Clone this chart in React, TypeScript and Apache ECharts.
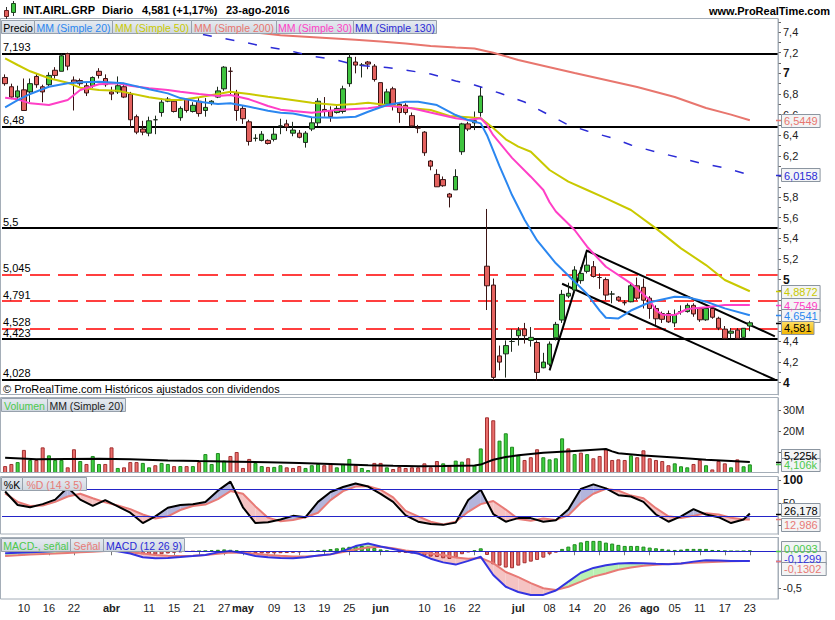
import { useEffect, useRef } from 'react';
import * as echarts from 'echarts';

const FONT = '"Liberation Sans", Arial, Helvetica, sans-serif';

// ---------------- categories (trading days, last 4 are empty future slots) ----------------
const MONTH_DAYS: [string, number[]][] = [
  ['03', [7, 8, 9, 10, 11, 14, 15, 16, 17, 18, 21, 22, 23, 24, 29, 30, 31]],
  ['04', [1, 4, 5, 6, 7, 8, 11, 12, 13, 14, 15, 18, 19, 20, 21, 22, 25, 26, 27, 28, 29]],
  ['05', [2, 3, 4, 5, 6, 9, 10, 11, 12, 13, 16, 17, 18, 19, 20, 23, 24, 25, 26, 27, 30, 31]],
  ['06', [1, 2, 3, 6, 7, 8, 9, 10, 13, 14, 15, 16, 17, 20, 21, 22, 23, 24, 27, 28, 29, 30]],
  ['07', [1, 4, 5, 6, 7, 8, 11, 12, 13, 14, 15, 18, 19, 20, 21, 22, 25, 26, 27, 28, 29]],
  ['08', [1, 2, 3, 4, 5, 8, 9, 10, 11, 12, 15, 16, 17, 18, 19, 22, 23, 24, 25, 26, 29]],
];
const DATES = MONTH_DAYS.flatMap(([m, ds]) => ds.map((d) => `2016-${m}-${String(d).padStart(2, '0')}`));
const TICK_DATES = [
  '2016-03-10', '2016-03-16', '2016-03-22', '2016-04-01', '2016-04-11', '2016-04-15', '2016-04-21',
  '2016-04-27', '2016-05-02', '2016-05-09', '2016-05-13', '2016-05-19', '2016-05-25', '2016-06-01',
  '2016-06-10', '2016-06-16', '2016-06-22', '2016-07-01', '2016-07-08', '2016-07-14', '2016-07-20',
  '2016-07-26', '2016-08-01', '2016-08-05', '2016-08-11', '2016-08-17', '2016-08-23',
];
const MONTH_LABELS: Record<string, string> = {
  '2016-04-01': 'abr', '2016-05-02': 'may', '2016-06-01': 'jun', '2016-07-01': 'jul', '2016-08-01': 'ago',
};

// ---------------- prices ----------------
const OPEN = [
  6.96, 6.87, 6.77, 6.84, 6.82, 6.97, 6.87, 6.89, 7.03, 7.02,
  7.19, 6.935, 6.93, 6.88, 6.88, 7.02, 6.95, 6.82, 6.82, 6.87,
  6.80, 6.58, 6.46, 6.42, 6.55, 6.62, 6.73, 6.73, 6.57, 6.75,
  6.63, 6.73, 6.64, 6.71, 6.77, 6.85, 7.02, 6.81, 6.66, 6.53,
  6.37, 6.35, 6.35, 6.36, 6.49, 6.51, 6.42, 6.42, 6.33, 6.46,
  6.52, 6.65, 6.64, 6.62, 6.63, 6.90, 7.11, 7.08, 7.11, 7.07,
  6.91, 6.70, 6.85, 6.70, 6.69, 6.59, 6.47, 6.43, 6.15, 6.02,
  5.97, 5.83, 5.87, 6.24, 6.51, 6.52, 6.62, 5.13, 4.947, 4.26,
  4.28, 4.40, 4.456, 4.52, 4.41, 4.39, 4.145, 4.18, 4.436, 4.608,
  4.84, 4.899, 4.99, 5.08, 5.125, 5.02, 5.00, 4.86, 4.83, 4.776,
  4.785, 4.94, 4.925, 4.82, 4.72, 4.67, 4.67, 4.58, 4.69, 4.69,
  4.75, 4.72, 4.61, 4.72, 4.625, 4.52, 4.48, 4.51, 4.44, 4.55,
];
const CLOSE = [
  6.90, 6.77, 6.83, 6.64, 6.90, 6.89, 6.82, 6.98, 6.98, 7.17,
  7.07, 6.91, 6.90, 6.81, 6.96, 6.98, 6.89, 6.80, 6.88, 6.77,
  6.55, 6.43, 6.43, 6.54, 6.55, 6.72, 6.75, 6.63, 6.66, 6.64,
  6.69, 6.61, 6.67, 6.73, 6.83, 7.06, 7.02, 6.64, 6.56, 6.34,
  6.37, 6.41, 6.32, 6.41, 6.49, 6.48, 6.45, 6.38, 6.42, 6.52,
  6.73, 6.63, 6.58, 6.66, 6.85, 7.155, 7.08, 7.08, 7.09, 6.94,
  6.69, 6.82, 6.70, 6.62, 6.62, 6.49, 6.47, 6.23, 6.10, 5.90,
  5.91, 5.80, 6.00, 6.51, 6.46, 6.54, 6.78, 4.94, 4.052, 4.20,
  4.36, 4.40, 4.51, 4.456, 4.44, 4.10, 4.20, 4.375, 4.566, 4.857,
  4.867, 5.093, 5.06, 5.14, 5.03, 5.02, 4.85, 4.86, 4.80, 4.776,
  4.94, 4.82, 4.80, 4.72, 4.62, 4.615, 4.59, 4.66, 4.69, 4.75,
  4.667, 4.61, 4.72, 4.635, 4.53, 4.43, 4.50, 4.43, 4.528, 4.581,
];
const LOW = [
  6.88, 6.75, 6.74, 6.64, 6.72, 6.86, 6.72, 6.86, 6.95, 7.02,
  7.03, 6.64, 6.88, 6.78, 6.86, 6.95, 6.87, 6.74, 6.80, 6.76,
  6.47, 6.41, 6.40, 6.39, 6.41, 6.58, 6.72, 6.62, 6.54, 6.62,
  6.62, 6.58, 6.58, 6.69, 6.76, 6.83, 6.79, 6.54, 6.51, 6.30,
  6.34, 6.34, 6.31, 6.34, 6.41, 6.44, 6.39, 6.37, 6.28, 6.44,
  6.49, 6.58, 6.53, 6.61, 6.61, 6.87, 7.00, 6.96, 7.04, 6.92,
  6.69, 6.69, 6.64, 6.52, 6.60, 6.48, 6.42, 6.20, 6.06, 5.90,
  5.90, 5.70, 5.87, 6.21, 6.44, 6.45, 6.58, 4.705, 4.02, 4.12,
  4.05, 4.30, 4.36, 4.38, 4.35, 4.02, 4.14, 4.16, 4.41, 4.58,
  4.82, 4.88, 4.96, 5.06, 5.02, 4.91, 4.80, 4.77, 4.79, 4.75,
  4.78, 4.80, 4.72, 4.62, 4.56, 4.58, 4.58, 4.54, 4.66, 4.68,
  4.64, 4.59, 4.60, 4.62, 4.51, 4.42, 4.43, 4.42, 4.43, 4.50,
];
const HIGH = [
  6.99, 6.90, 6.88, 6.95, 6.95, 7.00, 6.89, 7.01, 7.06, 7.19,
  7.20, 6.97, 6.95, 6.91, 6.97, 7.05, 6.99, 6.87, 6.97, 6.90,
  6.82, 6.60, 6.54, 6.58, 6.59, 6.76, 6.77, 6.74, 6.68, 6.76,
  6.72, 6.76, 6.76, 6.74, 6.87, 7.07, 7.06, 6.84, 6.69, 6.55,
  6.41, 6.44, 6.36, 6.47, 6.56, 6.55, 6.53, 6.45, 6.44, 6.57,
  6.76, 6.77, 6.68, 6.70, 6.88, 7.19, 7.16, 7.10, 7.12, 7.09,
  6.91, 6.85, 6.87, 6.72, 6.71, 6.62, 6.50, 6.44, 6.16, 6.07,
  6.00, 5.84, 6.07, 6.52, 6.53, 6.63, 6.87, 5.685, 5.01, 4.36,
  4.41, 4.52, 4.54, 4.58, 4.54, 4.41, 4.29, 4.40, 4.59, 4.90,
  4.97, 5.13, 5.12, 5.25, 5.18, 5.06, 5.02, 4.89, 4.84, 4.80,
  4.96, 5.02, 5.01, 4.84, 4.75, 4.69, 4.70, 4.71, 4.75, 4.77,
  4.77, 4.73, 4.73, 4.73, 4.64, 4.55, 4.53, 4.53, 4.53, 4.60,
];

// moving averages: [day index, value]
const MA20: [number, number][] = [
  [0, 6.67], [2, 6.74], [4, 6.8], [7, 6.87], [10, 6.905], [12, 6.913], [15, 6.919], [19, 6.903],
  [23, 6.845], [26, 6.806], [28, 6.76], [31, 6.725], [34, 6.703], [36, 6.709], [39, 6.676], [42, 6.638],
  [44, 6.618], [46, 6.61], [49, 6.574], [53, 6.57], [56, 6.579], [58, 6.628], [61, 6.693], [64, 6.725],
  [66, 6.725], [69, 6.693], [72, 6.596], [74, 6.547], [76, 6.515], [77, 6.4], [78, 6.25], [79, 6.1],
  [81, 5.82], [83, 5.58], [85, 5.38], [88, 5.158], [91, 4.98], [93, 4.86], [95, 4.7], [96, 4.63],
  [98, 4.624], [100, 4.7], [103, 4.78], [107, 4.834], [109, 4.828], [112, 4.786], [115, 4.721], [119, 4.6541],
];
const MA30: [number, number][] = [
  [0, 6.764], [2, 6.748], [4, 6.709], [7, 6.693], [10, 6.741], [12, 6.838], [15, 6.894], [18, 6.903],
  [20, 6.88], [23, 6.855], [26, 6.838], [28, 6.822], [31, 6.8], [34, 6.78], [36, 6.79], [39, 6.748],
  [42, 6.683], [44, 6.648], [46, 6.635], [49, 6.618], [53, 6.644], [58, 6.661], [61, 6.686], [65, 6.661],
  [69, 6.606], [72, 6.564], [74, 6.547], [76, 6.564], [77, 6.5], [78, 6.4], [81, 6.18], [84, 5.998],
  [86, 5.869], [87, 5.75], [88, 5.66], [91, 5.481], [93, 5.319], [96, 5.125], [100, 4.964], [103, 4.802],
  [104, 4.7], [105, 4.66], [107, 4.657], [109, 4.715], [112, 4.731], [115, 4.753], [119, 4.7549],
];
const MA50: [number, number][] = [
  [0, 7.146], [2, 7.081], [4, 7.02], [7, 6.952], [10, 6.909], [12, 6.861], [15, 6.838], [18, 6.832],
  [20, 6.806], [23, 6.768], [26, 6.741], [28, 6.741], [31, 6.768], [34, 6.8], [36, 6.822], [39, 6.8],
  [42, 6.773], [45, 6.748], [49, 6.715], [53, 6.693], [56, 6.703], [58, 6.715], [61, 6.693], [65, 6.661],
  [68, 6.644], [71, 6.586], [74, 6.574], [76, 6.564], [78, 6.47], [80, 6.36], [82, 6.29], [84, 6.24],
  [87, 6.063], [90, 5.95], [93, 5.869], [96, 5.788], [100, 5.675], [104, 5.497], [108, 5.303], [112, 5.141],
  [115, 4.996], [119, 4.8872],
];
const MA200: [number, number][] = [
  [34, 7.45], [40, 7.395], [44, 7.37], [48, 7.355], [52, 7.34], [56, 7.325], [60, 7.31], [64, 7.29],
  [68, 7.265], [72, 7.25], [75, 7.24], [78, 7.2], [82, 7.13], [87, 7.06], [91, 7.003], [96, 6.935],
  [101, 6.867], [107, 6.77], [112, 6.664], [116, 6.6], [119, 6.5449],
];
const MA130: [number, number][] = [
  [28, 7.42], [34, 7.349], [38, 7.304], [41, 7.265], [45, 7.226], [49, 7.168], [53, 7.129], [56, 7.081],
  [61, 7.056], [64, 7.032], [68, 6.993], [72, 6.926], [75, 6.887], [79, 6.809], [83, 6.722], [86, 6.625],
  [90, 6.499], [93, 6.441], [97, 6.373], [100, 6.305], [104, 6.237], [108, 6.179], [111, 6.13], [115, 6.082],
  [119, 6.0158],
];

const BLACK_LEVELS = [7.193, 6.48, 5.5, 4.423, 4.028];
const RED_LEVELS = [5.045, 4.791, 4.528];
const TRENDLINES: [number, number][][] = [
  [[87, 4.12], [93, 5.29]],
  [[93, 5.28], [123, 4.45]],
  [[89, 4.96], [123, 4.03]],
];
// right-axis labels that the reference still shows (others sit under the value boxes)
const MAIN_TICKS = [4, 4.2, 4.4, 5, 5.2, 5.4, 5.6, 5.8, 6.2, 6.4, 6.6, 6.8, 7, 7.2, 7.4];
const MAIN_TICK_MARKS = [
  4, 4.1, 4.2, 4.3, 4.4, 4.5, 4.6, 4.7, 4.8, 4.9, 5, 5.1, 5.2, 5.3, 5.4, 5.5, 5.6, 5.7, 5.8, 5.9,
  6, 6.1, 6.2, 6.3, 6.4, 6.5, 6.6, 6.7, 6.8, 6.9, 7, 7.1, 7.2, 7.3, 7.4, 7.5,
];

// ---------------- volume (millions) ----------------
const VOLUME = [
  3.3, 4.3, 5.2, 11.0, 6.2, 6.2, 12.2, 8.4, 6.2, 6.2,
  2.7, 11.3, 5.7, 4.3, 8.1, 4.3, 4.3, 12.2, 2.4, 2.7,
  5.2, 5.2, 4.8, 2.7, 3.7, 4.8, 4.3, 3.3, 3.3, 3.3,
  3.3, 5.2, 9.0, 4.3, 9.5, 5.9, 8.1, 10.0, 2.4, 6.7,
  4.8, 3.3, 2.9, 2.9, 3.7, 2.7, 2.4, 3.3, 2.4, 3.7,
  4.3, 3.7, 4.3, 2.7, 4.3, 6.7, 3.7, 2.4, 1.4, 4.8,
  4.8, 2.7, 1.9, 2.9, 2.4, 2.7, 2.7, 4.6, 2.7, 5.7,
  4.6, 3.3, 5.9, 5.4, 7.0, 3.7, 11.7, 26.5, 25.1, 15.4,
  18.9, 12.5, 8.4, 6.2, 7.5, 11.3, 7.5, 6.5, 7.0, 16.5,
  11.7, 9.0, 9.7, 9.0, 7.0, 8.1, 11.3, 6.2, 6.5, 6.2,
  8.4, 7.5, 10.8, 7.0, 6.2, 5.7, 3.7, 4.6, 3.2, 2.7,
  4.3, 6.2, 3.7, 1.7, 5.7, 4.6, 2.7, 6.5, 3.2, 4.106,
];
const VOLUME_UP = [
  0, 0, 1, 0, 1, 0, 0, 1, 1, 1,
  0, 0, 1, 0, 1, 1, 0, 0, 1, 0,
  0, 0, 1, 1, 0, 1, 1, 0, 1, 0,
  1, 0, 1, 1, 1, 1, 0, 0, 0, 0,
  1, 1, 0, 1, 1, 0, 0, 0, 1, 1,
  1, 0, 0, 1, 1, 1, 0, 1, 1, 0,
  0, 1, 0, 0, 0, 0, 0, 0, 0, 0,
  1, 0, 1, 1, 0, 1, 1, 0, 0, 1,
  1, 1, 1, 0, 0, 0, 1, 1, 1, 1,
  0, 1, 0, 1, 0, 0, 0, 0, 0, 0,
  1, 0, 0, 0, 0, 0, 0, 1, 1, 1,
  0, 0, 1, 0, 0, 0, 1, 0, 1, 1,
];
const VOL_MA: [number, number][] = [
  [0, 7.3], [5, 6.5], [10, 6.7], [15, 6.8], [20, 6.5], [26, 6.0], [31, 5.7], [37, 5.4], [42, 5.1],
  [47, 4.8], [52, 4.3], [58, 3.7], [62, 3.4], [66, 3.2], [70, 3.3], [75, 3.6], [76, 4.0], [77, 5.2],
  [78, 6.3], [80, 7.6], [82, 8.4], [86, 9.6], [91, 10.5], [96, 11.4], [97, 10.3], [98, 9.4], [102, 8.3],
  [107, 7.4], [112, 6.3], [116, 5.7], [119, 5.225],
];
const VOL_TICKS = [20, 30];
const VOL_TICK_MARKS = [10, 20, 30];

// ---------------- oscillators (read every second day + last day) ----------------
const OSC_IDX = [...Array.from({ length: 60 }, (_, i) => i * 2), 119];
const STOCH_K = [
  75, 45, 40, 47, 57, 84, 57, 43, 56, 42,
  28, 5, 20, 39, 45, 47, 52, 77, 97, 40,
  5, 7, 13, 21, 18, 52, 74, 85, 93, 86,
  70, 52, 22, 8, 3, 1, 6, 56, 79, 25,
  8, 16, 16, 8, 11, 35, 81, 91, 82, 67,
  64, 52, 24, 8, 20, 36, 24, 18, 5, 13,
  26.178,
];
const STOCH_D = [
  71, 52, 43, 44, 52, 64, 70, 60, 51, 44,
  36, 24, 15, 20, 34, 43, 46, 58, 76, 70,
  42, 17, 9, 12, 18, 28, 56, 76, 86, 87,
  79, 62, 32, 20, 8, 2, 8, 30, 47, 54,
  35, 14, 10, 15, 12, 22, 50, 70, 81, 77,
  66, 60, 38, 20, 16, 21, 27, 24, 17, 13,
  12.986,
];
const STOCH_TICKS = [50, 100];
const STOCH_TICK_MARKS = [0, 50, 100];
const MACD = [
  -0.027, -0.02, -0.014, -0.005, 0.005, 0.012, 0.016, 0.018, 0.015, 0.0,
  -0.03, -0.08, -0.095, -0.09, -0.078, -0.065, -0.05, -0.015, 0.002, -0.025,
  -0.065, -0.08, -0.09, -0.095, -0.08, -0.058, -0.042, 0.005, 0.07, 0.105,
  0.065, 0.03, -0.005, -0.03, -0.1, -0.15, -0.18, -0.13, -0.075, -0.32,
  -0.48, -0.55, -0.59, -0.59, -0.53, -0.41, -0.29, -0.225, -0.19, -0.165,
  -0.16, -0.162, -0.17, -0.176, -0.165, -0.14, -0.12, -0.125, -0.132, -0.131,
  -0.1299,
];
const SIGNAL = [
  -0.064, -0.055, -0.045, -0.037, -0.03, -0.022, -0.014, -0.006, 0.002, 0.004,
  -0.01, -0.03, -0.052, -0.06, -0.064, -0.06, -0.05, -0.035, -0.016, -0.02,
  -0.035, -0.05, -0.062, -0.072, -0.07, -0.062, -0.041, -0.01, 0.025, 0.05,
  0.062, 0.04, 0.01, -0.01, -0.03, -0.05, -0.085, -0.1, -0.09, -0.16,
  -0.28, -0.35, -0.43, -0.5, -0.523, -0.48, -0.41, -0.343, -0.3, -0.25,
  -0.22, -0.195, -0.182, -0.172, -0.165, -0.155, -0.147, -0.14, -0.135, -0.131,
  -0.1302,
];
const MACD_HIST = [
  0.035, 0.035, 0.035, 0.033, 0.031, 0.03, 0.032, 0.034, 0.035, 0.035,
  0.034, 0.032, 0.03, 0.027, 0.024, 0.018, 0.013, 0.006, -0.003, -0.012,
  -0.02, -0.03, -0.04, -0.045, -0.045, -0.04, -0.03, -0.02, -0.012, -0.005,
  -0.002, 0.002, 0.006, 0.012, 0.02, 0.025, 0.02, 0.01, -0.005, -0.015,
  -0.025, -0.03, -0.03, -0.028, -0.026, -0.024, -0.02, -0.014, -0.008, 0.0,
  0.01, 0.02, 0.03, 0.04, 0.05, 0.06, 0.068, 0.072, 0.065, 0.045,
  0.025, 0.008, -0.008, -0.015, -0.022, -0.03, -0.04, -0.06, -0.072, -0.077,
  -0.095, -0.104, -0.086, -0.04, -0.014, 0.01, 0.04, -0.05, -0.176, -0.194,
  -0.22, -0.23, -0.194, -0.162, -0.14, -0.117, -0.086, -0.04, -0.018, 0.032,
  0.063, 0.095, 0.12, 0.14, 0.14, 0.14, 0.117, 0.104, 0.086, 0.072,
  0.072, 0.072, 0.063, 0.05, 0.041, 0.032, 0.023, 0.018, 0.023, 0.032,
  0.032, 0.032, 0.032, 0.018, 0.014, 0.005, 0.002, 0.0, 0.003, 0.0093,
];
const MACD_TICKS = [-0.5];
const MACD_TICK_MARKS = [-0.5, 0];

// ---------------- colours ----------------
const C_MA20 = '#2b87f0';
const C_MA50 = '#c9c900';
const C_MA200 = '#e8766e';
const C_MA30 = '#ff3fc6';
const C_MA130 = '#2b2bd6';
const C_SALMON = '#e87a76';
const C_GREEN_TXT = '#4cc94c';
const C_FRAME = '#a5aeb8';

const comma = (v: number) => String(+v.toFixed(4)).replace('.', ',');

function fillBetween(xi: number, yi: number, idx: number[], a: number[], b: number[], up: string, down: string) {
  return {
    type: 'custom',
    xAxisIndex: xi,
    yAxisIndex: yi,
    silent: true,
    z: 1,
    data: [[0, 0]],
    renderItem: (_p: any, api: any) => {
      const children: any[] = [];
      for (let i = 0; i < idx.length - 1; i++) {
        const pa1 = api.coord([idx[i], a[i]]);
        const pa2 = api.coord([idx[i + 1], a[i + 1]]);
        const pb1 = api.coord([idx[i], b[i]]);
        const pb2 = api.coord([idx[i + 1], b[i + 1]]);
        const d1 = a[i] - b[i];
        const d2 = a[i + 1] - b[i + 1];
        if (d1 * d2 >= 0) {
          children.push({
            type: 'polygon',
            shape: { points: [pa1, pa2, pb2, pb1] },
            style: { fill: d1 + d2 >= 0 ? up : down },
          });
        } else {
          const t = d1 / (d1 - d2);
          const c = [pa1[0] + t * (pa2[0] - pa1[0]), pa1[1] + t * (pa2[1] - pa1[1])];
          children.push({ type: 'polygon', shape: { points: [pa1, c, pb1] }, style: { fill: d1 > 0 ? up : down } });
          children.push({ type: 'polygon', shape: { points: [c, pa2, pb2] }, style: { fill: d2 > 0 ? up : down } });
        }
      }
      return { type: 'group', children };
    },
  };
}

function lineSeries(xi: number, yi: number, data: any[], color: string, width = 2, extra: any = {}) {
  return {
    type: 'line',
    xAxisIndex: xi,
    yAxisIndex: yi,
    data,
    showSymbol: false,
    symbol: 'none',
    silent: true,
    z: 3,
    lineStyle: { color, width, ...(extra.lineStyle || {}) },
  };
}

function txt(x: number, y: number, text: string, fill: string, opts: any = {}) {
  return {
    type: 'text',
    x,
    y,
    z: opts.z ?? 102,
    silent: true,
    style: {
      text,
      fill,
      fontSize: opts.size ?? 11,
      fontFamily: FONT,
      fontWeight: opts.bold ? 'bold' : 'normal',
      textAlign: opts.align ?? 'left',
      align: opts.align ?? 'left',
      textVerticalAlign: 'middle',
      verticalAlign: 'middle',
    },
  };
}

function tabs(y: number, h: number, items: [number, number, string, string][]) {
  const out: any[] = [];
  items.forEach(([x, w, t, c]) => {
    out.push({
      type: 'rect',
      z: 100,
      silent: true,
      shape: { x: x + 0.5, y: y + 0.5, width: w, height: h },
      style: {
        fill: { type: 'linear', x: 0, y: 0, x2: 0, y2: 1, colorStops: [{ offset: 0, color: '#e6ebf1' }, { offset: 1, color: '#cfd7e0' }] },
        stroke: '#97a1ac',
        lineWidth: 1,
      },
    });
    out.push(txt(x + w / 2 + 0.5, y + h / 2 + 1, t, c, { align: 'center', size: 10.5 }));
  });
  return out;
}

export default function App() {
  const ref = useRef<HTMLDivElement>(null);
  useEffect(() => {
    const chart = echarts.init(ref.current!, null, { renderer: 'svg' });
    const tickSet = new Set(TICK_DATES);

    const grids = [
      { left: 2, top: 19, width: 776, height: 376 },
      { left: 2, top: 398, width: 776, height: 75 },
      { left: 2, top: 477, width: 776, height: 57.5 },
      { left: 2, top: 537.5, width: 776, height: 61.5 },
    ];
    const xAxes = grids.map((_, i) => ({
      type: 'category',
      gridIndex: i,
      data: DATES,
      boundaryGap: true,
      show: i === 3,
      axisLine: { show: i === 3, lineStyle: { color: C_FRAME } },
      axisTick: {
        show: i === 3,
        alignWithLabel: true,
        length: 4,
        interval: (_i: number, v: string) => tickSet.has(v),
        lineStyle: { color: '#777' },
      },
      axisLabel: {
        show: i === 3,
        margin: 3,
        fontSize: 11,
        fontFamily: FONT,
        color: '#222',
        interval: (_i: number, v: string) => tickSet.has(v),
        formatter: (v: string) => (MONTH_LABELS[v] ? `{b|${MONTH_LABELS[v]}}` : v.slice(8)),
        rich: { b: { fontWeight: 'bold', fontSize: 11, fontFamily: FONT, color: '#222' } },
      },
      splitLine: { show: false },
    }));
    const yBase = (gi: number, min: number, max: number, labels: number[], marks: number[], fmt: (v: number) => string) => ({
      type: 'value',
      gridIndex: gi,
      position: 'right',
      min,
      max,
      splitLine: { show: false },
      axisLine: { show: true, lineStyle: { color: C_FRAME } },
      axisTick: { show: true, length: 3, customValues: marks, lineStyle: { color: '#666' } },
      axisLabel: {
        show: true,
        customValues: labels,
        margin: 5,
        fontSize: 11,
        fontFamily: FONT,
        color: '#222',
        formatter: fmt,
        rich: { b: { fontWeight: 'bold', fontSize: 12, fontFamily: FONT, color: '#111' } },
      },
    });
    const yAxes = [
      yBase(0, 3.881, 7.527, MAIN_TICKS, MAIN_TICK_MARKS, (v) => (Math.abs(v - Math.round(v)) < 1e-6 ? `{b|${Math.round(v)}}` : comma(v))),
      yBase(1, 0, 35.7, VOL_TICKS, VOL_TICK_MARKS, (v) => `${Math.round(v)}M`),
      yBase(2, -20.4, 107.3, STOCH_TICKS, STOCH_TICK_MARKS, (v) => (v === 100 ? '{b|100}' : String(v))),
      yBase(3, -0.645, 0.186, MACD_TICKS, MACD_TICK_MARKS, (v) => comma(v)),
    ];

    const candleData = OPEN.map((o, i) => [o, CLOSE[i], LOW[i], HIGH[i]]);
    const levelLines = [
      ...BLACK_LEVELS.map((v) => ({ yAxis: v, lineStyle: { color: '#000', width: 2, type: 'solid' } })),
      ...RED_LEVELS.map((v) => ({ yAxis: v, lineStyle: { color: '#ff0000', width: 1.5, type: [20, 8] } })),
    ];
    const trendLines = TRENDLINES.map(([a, b]) => [
      { coord: a, lineStyle: { color: '#000', width: 2, type: 'solid' }, label: { show: false } },
      { coord: b },
    ]);

    const series: any[] = [
      {
        type: 'candlestick',
        xAxisIndex: 0,
        yAxisIndex: 0,
        data: candleData,
        barWidth: 5,
        silent: true,
        z: 2,
        itemStyle: {
          color: '#3fc43f',
          color0: '#e4625f',
          borderColor: '#1c2a1c',
          borderColor0: '#3a1414',
          borderWidth: 1,
        },
        markLine: {
          silent: true,
          symbol: ['none', 'none'],
          precision: 3,
          z: 1,
          label: {
            show: true,
            position: 'insideStartTop',
            distance: [1, 1],
            formatter: (p: any) => comma(p.value),
            color: '#000',
            fontSize: 11,
            fontFamily: FONT,
          },
          data: [...levelLines, ...trendLines],
        },
      },
      lineSeries(0, 0, MA200, C_MA200),
      lineSeries(0, 0, MA130, C_MA130, 1.5, { lineStyle: { type: [9, 14] } }),
      lineSeries(0, 0, MA50, C_MA50),
      lineSeries(0, 0, MA30, C_MA30),
      lineSeries(0, 0, MA20, C_MA20),
      {
        type: 'bar',
        xAxisIndex: 1,
        yAxisIndex: 1,
        barWidth: 4,
        silent: true,
        data: VOLUME.map((v, i) => ({
          value: v,
          itemStyle: VOLUME_UP[i]
            ? { color: '#3fcf3f', borderColor: '#1e8a1e', borderWidth: 1 }
            : { color: '#ea6e6c', borderColor: '#a33030', borderWidth: 1 },
        })),
      },
      lineSeries(1, 1, VOL_MA, '#000'),
      fillBetween(2, 2, OSC_IDX, STOCH_K, STOCH_D, '#b3b5dc', '#f5c3c3'),
      lineSeries(2, 2, OSC_IDX.map((x, i) => [x, STOCH_D[i]]), C_SALMON),
      {
        ...lineSeries(2, 2, OSC_IDX.map((x, i) => [x, STOCH_K[i]]), '#000'),
        markLine: {
          silent: true,
          symbol: ['none', 'none'],
          label: { show: false },
          lineStyle: { color: '#2424c8', width: 1, type: 'solid' },
          data: [{ yAxis: 80 }, { yAxis: 20 }],
        },
      },
      {
        type: 'bar',
        xAxisIndex: 3,
        yAxisIndex: 3,
        barWidth: 4,
        silent: true,
        z: 2,
        data: MACD_HIST.map((v) => ({
          value: v,
          itemStyle: v >= 0
            ? { color: '#3fcf3f', borderColor: '#1e8a1e', borderWidth: 1 }
            : { color: '#ea6e6c', borderColor: '#a33030', borderWidth: 1 },
        })),
      },
      fillBetween(3, 3, OSC_IDX, MACD, SIGNAL, '#b9f0b3', '#f5c3c3'),
      lineSeries(3, 3, OSC_IDX.map((x, i) => [x, SIGNAL[i]]), C_SALMON),
      {
        ...lineSeries(3, 3, OSC_IDX.map((x, i) => [x, MACD[i]]), '#3434e0'),
        markLine: {
          silent: true,
          symbol: ['none', 'none'],
          label: { show: false },
          lineStyle: { color: '#2424c8', width: 1, type: 'solid' },
          data: [{ yAxis: 0 }],
        },
      },
    ];

    chart.setOption({
      animation: false,
      backgroundColor: '#fff',
      textStyle: { fontFamily: FONT },
      grid: grids,
      xAxis: xAxes,
      yAxis: yAxes,
      series,
    });

    // ---- overlay graphics ----
    const g: any[] = [];
    // header
    g.push({ type: 'line', z: 100, silent: true, shape: { x1: 6.5, y1: 7, x2: 6.5, y2: 19 }, style: { stroke: '#333', lineWidth: 1 } });
    g.push({ type: 'rect', z: 101, silent: true, shape: { x: 4.5, y: 10.5, width: 4, height: 6 }, style: { fill: '#e4625f', stroke: '#6a2020', lineWidth: 1 } });
    g.push({ type: 'line', z: 100, silent: true, shape: { x1: 13.5, y1: 1, x2: 13.5, y2: 16 }, style: { stroke: '#333', lineWidth: 1 } });
    g.push({ type: 'rect', z: 101, silent: true, shape: { x: 11.5, y: 3.5, width: 4, height: 9 }, style: { fill: '#3fc43f', stroke: '#1c4a1c', lineWidth: 1 } });
    g.push(txt(23, 10, 'INT.AIRL.GRP', '#000', { bold: true }));
    g.push(txt(102, 10, 'Diario', '#000', { bold: true }));
    g.push(txt(142, 10, '4,581 (+1,17%)', '#000', { bold: true }));
    g.push(txt(226, 10, '23-ago-2016', '#000', { bold: true }));
    g.push(txt(830, 11, 'www.ProRealTime.com', '#000', { bold: true, align: 'right' }));
    // panel frames
    [[19, 376], [398, 75], [477, 57.5], [537.5, 61.5]].forEach(([y, h]) => {
      g.push({ type: 'rect', z: 99, silent: true, shape: { x: 0.5, y: Math.round(y) - 0.5, width: 777.5, height: h }, style: { fill: 'none', stroke: C_FRAME, lineWidth: 1 } });
    });
    // tab bars
    g.push(...tabs(20, 13, [
      [1, 33, 'Precio', '#000'],
      [34, 78, 'MM (Simple 20)', C_MA20],
      [112, 79, 'MM (Simple 50)', C_MA50],
      [191, 85, 'MM (Simple 200)', C_MA200],
      [276, 77, 'MM (Simple 30)', C_MA30],
      [353, 83, 'MM (Simple 130)', C_MA130],
    ]));
    g.push(...tabs(398, 13, [
      [1, 46, 'Volumen', C_GREEN_TXT],
      [47, 78, 'MM (Simple 20)', '#222'],
    ]));
    g.push(...tabs(477, 13, [
      [1, 21, '%K', '#000'],
      [22, 64, '%D (14 3 5)', C_SALMON],
    ]));
    g.push(...tabs(538, 13, [
      [1, 69, 'MACD-, señal', C_GREEN_TXT],
      [70, 33, 'Señal', C_SALMON],
      [103, 81, 'MACD (12 26 9)', C_MA130],
    ]));
    g.push(txt(3, 389, '© ProRealTime.com Históricos ajustados con dividendos', '#000'));

    // value boxes on the right axes
    const boxes: { axis: number; v: number; text: string; color: string; dy: number; gold?: boolean }[] = [
      { axis: 0, v: 6.5449, text: '6,5449', color: C_MA200, dy: 0 },
      { axis: 0, v: 6.0158, text: '6,0158', color: C_MA130, dy: 0 },
      { axis: 0, v: 4.8872, text: '4,8872', color: C_MA50, dy: 0 },
      { axis: 0, v: 4.7549, text: '4,7549', color: C_MA30, dy: 0 },
      { axis: 0, v: 4.6541, text: '4,6541', color: C_MA20, dy: 0 },
      { axis: 0, v: 4.581, text: '4,581', color: '#000', dy: 4.5, gold: true },
      { axis: 1, v: 5.225, text: '5,225k', color: '#000', dy: -7 },
      { axis: 1, v: 4.106, text: '4,106k', color: C_GREEN_TXT, dy: 0 },
      { axis: 2, v: 26.178, text: '26,178', color: '#000', dy: -4 },
      { axis: 2, v: 12.986, text: '12,986', color: C_SALMON, dy: 5 },
      { axis: 3, v: 0.0093, text: '0,0093', color: C_GREEN_TXT, dy: -3 },
      { axis: 3, v: -0.1299, text: '-0,1299', color: '#3434e0', dy: -3 },
      { axis: 3, v: -0.1302, text: '-0,1302', color: C_SALMON, dy: 7.5 },
    ];
    boxes.forEach((b) => {
      const yv = chart.convertToPixel({ yAxisIndex: b.axis } as any, b.v) as unknown as number;
      const cy = yv + b.dy;
      const w = b.text.length * 6.1 + 2;
      g.push({ type: 'line', z: 103, silent: true, shape: { x1: 776, y1: Math.round(yv) + 0.5, x2: 781, y2: Math.round(yv) + 0.5 }, style: { stroke: b.color, lineWidth: 1.5 } });
      g.push({
        type: 'rect', z: 104, silent: true,
        shape: { x: 781.5, y: Math.round(cy - 6.5) + 0.5, width: w, height: 13 },
        style: {
          fill: b.gold
            ? { type: 'linear', x: 0, y: 0, x2: 0, y2: 1, colorStops: [{ offset: 0, color: '#ffe066' }, { offset: 1, color: '#f0b400' }] }
            : '#f3f4f5',
          stroke: '#8b95a0',
          lineWidth: 1,
        },
      });
      g.push(txt(784, Math.round(cy) + 1, b.text, b.color, { z: 105 }));
    });

    chart.setOption({ graphic: g });
    return () => chart.dispose();
  }, []);
  return <div ref={ref} style={{ position: 'fixed', left: 0, top: 0, width: 835, height: 620 }} />;
}
